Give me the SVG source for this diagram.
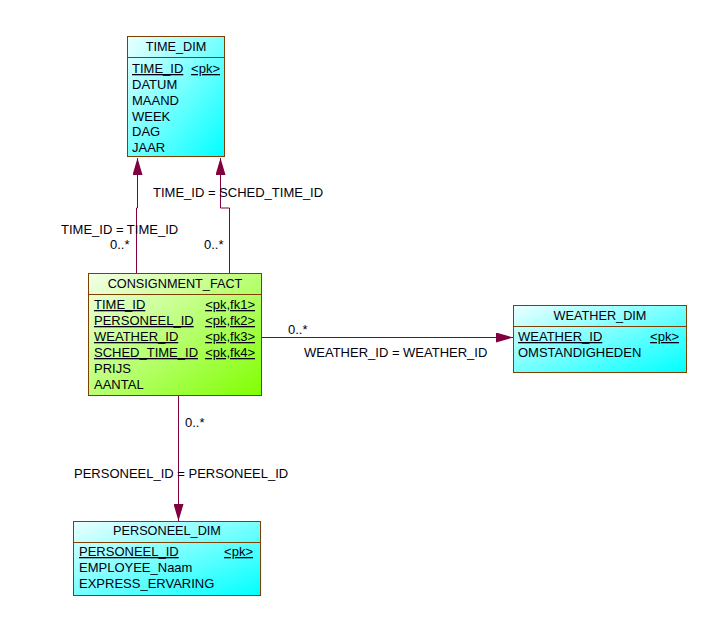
<svg xmlns="http://www.w3.org/2000/svg" width="702" height="622" viewBox="0 0 702 622">
<style>
text{font-family:"Liberation Sans",Arial,sans-serif;font-size:13px;fill:#000010}
.hd{text-anchor:middle;font-size:12.7px}
.u{text-decoration:underline}
.r{text-anchor:end}
.box{stroke:#7f3f00;stroke-width:1}
.sep{stroke:#7f3f00;stroke-width:1}
.c{fill:none;stroke:#800040;stroke-width:1}
</style>
<defs>
<linearGradient id="cy" x1="0" y1="0" x2="1" y2="1">
<stop offset="0" stop-color="#ecffff"/>
<stop offset="1" stop-color="#00ffff"/>
</linearGradient>
<linearGradient id="gr" x1="0" y1="0" x2="1" y2="1">
<stop offset="0" stop-color="#f4ffe8"/>
<stop offset="1" stop-color="#80ff00"/>
</linearGradient>
<marker id="ar" viewBox="0 0 17 10" refX="17" refY="5" markerWidth="17" markerHeight="10" markerUnits="userSpaceOnUse" orient="auto">
<path d="M0,0 L17,5 L0,10 Z" fill="#800040"/>
</marker>
</defs>
<g id="connectors">
<polyline class="c" points="136.5,273 136.5,208 137.5,208 137.5,158" marker-end="url(#ar)"/>
<polyline class="c" points="229.5,273 229.5,208 220.5,208 220.5,158" marker-end="url(#ar)"/>
<line class="c" x1="262" y1="337.5" x2="513" y2="337.5" marker-end="url(#ar)"/>
<line class="c" x1="178.5" y1="396" x2="178.5" y2="521" marker-end="url(#ar)"/>
<text x="153" y="197">TIME_ID = SCHED_TIME_ID</text>
<text x="61" y="234">TIME_ID = TIME_ID</text>
<text x="110" y="249">0..*</text>
<text x="204" y="249">0..*</text>
<text x="288" y="334">0..*</text>
<text x="304" y="357">WEATHER_ID = WEATHER_ID</text>
<text x="185" y="427">0..*</text>
<text x="74" y="478">PERSONEEL_ID = PERSONEEL_ID</text>
</g>
<g id="TIME_DIM">
<rect class="box" x="127.5" y="36.5" width="97" height="120" fill="url(#cy)"/>
<line class="sep" x1="127.5" y1="57.5" x2="224.5" y2="57.5"/>
<text class="hd" x="176" y="51">TIME_DIM</text>
<text class="u" x="132" y="73">TIME_ID</text>
<text class="u r" x="220" y="73">&lt;pk&gt;</text>
<text x="132" y="89">DATUM</text>
<text x="132" y="105">MAAND</text>
<text x="132" y="121">WEEK</text>
<text x="132" y="136">DAG</text>
<text x="132" y="152">JAAR</text>
</g>
<g id="CONSIGNMENT_FACT">
<rect class="box" x="88.5" y="273.5" width="173" height="122" fill="url(#gr)"/>
<line class="sep" x1="88.5" y1="294.5" x2="261.5" y2="294.5"/>
<text class="hd" x="175" y="288">CONSIGNMENT_FACT</text>
<text class="u" x="94" y="309">TIME_ID</text>
<text class="u r" x="255" y="309">&lt;pk,fk1&gt;</text>
<text class="u" x="94" y="325">PERSONEEL_ID</text>
<text class="u r" x="255" y="325">&lt;pk,fk2&gt;</text>
<text class="u" x="94" y="341">WEATHER_ID</text>
<text class="u r" x="255" y="341">&lt;pk,fk3&gt;</text>
<text class="u" x="94" y="357">SCHED_TIME_ID</text>
<text class="u r" x="255" y="357">&lt;pk,fk4&gt;</text>
<text x="94" y="373">PRIJS</text>
<text x="94" y="389">AANTAL</text>
</g>
<g id="WEATHER_DIM">
<rect class="box" x="513.5" y="305.5" width="173" height="67" fill="url(#cy)"/>
<line class="sep" x1="513.5" y1="326.5" x2="686.5" y2="326.5"/>
<text class="hd" x="600" y="320">WEATHER_DIM</text>
<text class="u" x="518" y="341">WEATHER_ID</text>
<text class="u r" x="679" y="341">&lt;pk&gt;</text>
<text x="518" y="357">OMSTANDIGHEDEN</text>
</g>
<g id="PERSONEEL_DIM">
<rect class="box" x="73.5" y="521.5" width="187" height="74" fill="url(#cy)"/>
<line class="sep" x1="73.5" y1="542.5" x2="260.5" y2="542.5"/>
<text class="hd" x="167" y="535">PERSONEEL_DIM</text>
<text class="u" x="79" y="556">PERSONEEL_ID</text>
<text class="u r" x="253" y="556">&lt;pk&gt;</text>
<text x="79" y="572">EMPLOYEE_Naam</text>
<text x="79" y="588">EXPRESS_ERVARING</text>
</g>
</svg>
